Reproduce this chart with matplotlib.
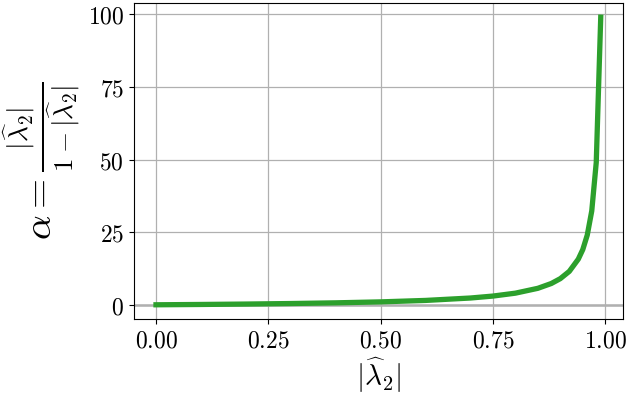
import matplotlib
matplotlib.use("Agg")
import matplotlib.pyplot as plt
from matplotlib.ticker import FuncFormatter

plt.rcParams["mathtext.fontset"] = "cm"

# |lambda_2| hat values and alpha
lam = [0.0, 0.1, 0.2, 0.3, 0.4, 0.5, 0.6, 0.7, 0.75, 0.8, 0.85, 0.88, 0.9,
       0.92, 0.94, 0.95, 0.96, 0.97, 0.98, 0.99]
alpha = [0.0, 0.11, 0.25, 0.43, 0.67, 1.0, 1.5, 2.33, 3.0, 4.0, 5.67, 7.33,
         9.0, 11.5, 15.7, 19.0, 24.0, 32.3, 49.0, 99.0]
xticks = [0.0, 0.25, 0.5, 0.75, 1.0]
yticks = [0, 25, 50, 75, 100]

fig = plt.figure(figsize=(6.28, 4.04), dpi=100)
ax = fig.add_axes([0.213, 0.21, 0.779, 0.783])

ax.grid(True, color="#b0b0b0", linewidth=0.9)
ax.axhline(0, color="#b0b0b0", linewidth=1.8, zorder=1)
ax.plot(lam, alpha, color="#2ca02c", linewidth=3.8, zorder=3)

ax.set_xticks(xticks)
ax.set_yticks(yticks)
ax.xaxis.set_major_formatter(FuncFormatter(lambda v, p: r"$%.2f$" % v))
ax.yaxis.set_major_formatter(FuncFormatter(lambda v, p: r"$%d$" % v))
ax.tick_params(labelsize=17)

ax.set_xlabel(r"$|\widehat{\lambda}_2|$", fontsize=21, labelpad=2)
ax.set_ylabel(r"$\alpha = \frac{|\widehat{\lambda}_2|}{1 - |\widehat{\lambda}_2|}$",
              fontsize=28, labelpad=4)

fig.savefig("out.png", dpi=100)
